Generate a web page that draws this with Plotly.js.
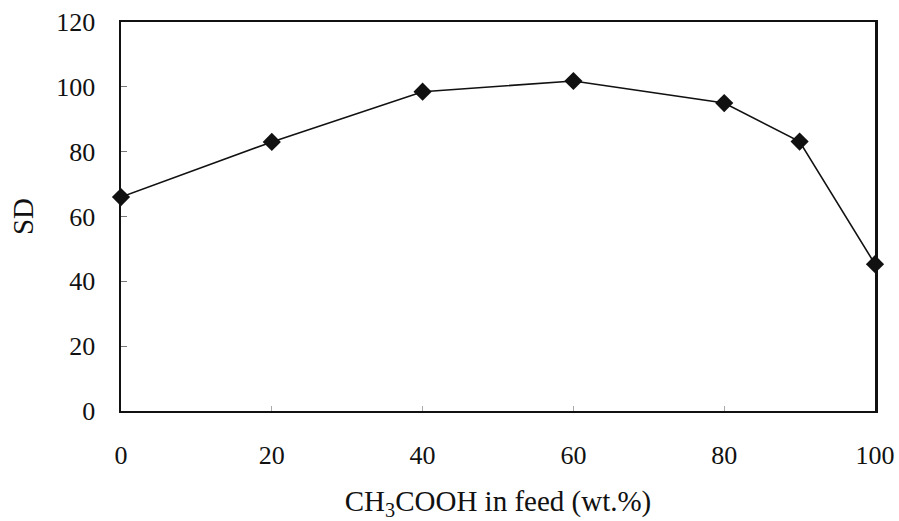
<!DOCTYPE html>
<html>
<head>
<meta charset="utf-8">
<script src="https://cdn.plot.ly/plotly-3.0.1.min.js"></script>
<style>html,body{margin:0;padding:0;background:#fff;}#chart{width:899px;height:521px;}</style>
</head>
<body>
<div id="chart"></div>
<script>
const acidContent = [0, 20, 40, 60, 80, 90, 100];
const sdValues = [66, 83, 98.5, 101.8, 95, 83.1, 45.3];
const xTickVals = [0, 20, 40, 60, 80, 100];
const yTickVals = [0, 20, 40, 60, 80, 100, 120];

const font = {family: '"Liberation Serif", "Times New Roman", serif', color: '#111', size: 26};
const titleFont = {family: '"Liberation Serif", "Times New Roman", serif', color: '#111', size: 29};

Plotly.newPlot('chart', [{
  x: acidContent,
  y: sdValues,
  type: 'scatter',
  mode: 'lines+markers',
  line: {color: '#111', width: 1.6},
  marker: {symbol: 'diamond', size: 14, color: '#111'},
  cliponaxis: false,
  showlegend: false
}], {
  width: 899, height: 521,
  margin: {l: 121, r: 24, t: 22, b: 110},
  paper_bgcolor: '#fff', plot_bgcolor: '#fff',
  font: font,
  xaxis: {
    range: [0, 100], tickvals: xTickVals, ticks: 'inside', ticklen: 5, tickcolor: '#aaa',
    showline: true, linecolor: '#111', linewidth: 2, mirror: true, showgrid: false, zeroline: false,
    ticklabelstandoff: 20,
    title: {text: 'CH<sub>3</sub>COOH in feed (wt.%)', font: titleFont, standoff: 27}
  },
  yaxis: {
    range: [0, 120], tickvals: yTickVals, ticks: 'inside', ticklen: 6, tickcolor: '#777',
    showline: true, linecolor: '#111', linewidth: 2.5, mirror: true, showgrid: false, zeroline: false,
    ticklabelstandoff: 18,
    title: {text: 'SD', font: titleFont, standoff: 14}
  }
}, {staticPlot: true});
</script>
</body>
</html>
